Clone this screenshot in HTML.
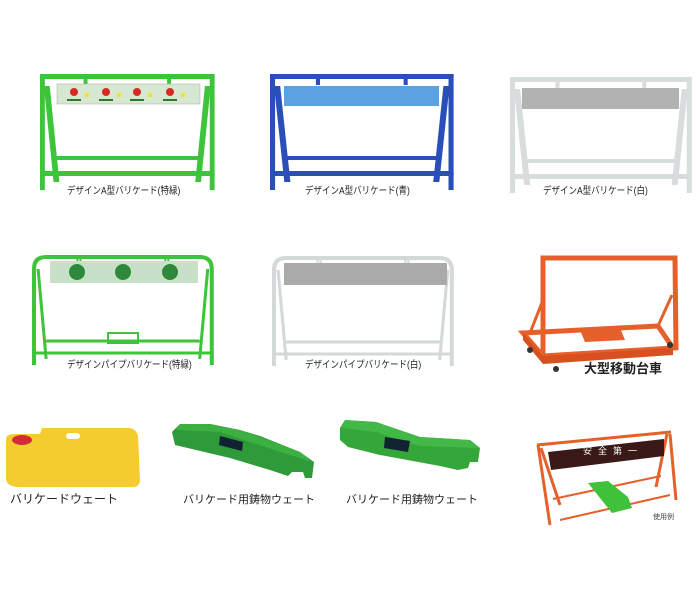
<!DOCTYPE html>
<html><head><meta charset="utf-8"><style>
body{margin:0;background:#fff;width:700px;height:608px;overflow:hidden;position:relative;font-family:"Liberation Sans","Noto Sans CJK JP",sans-serif}
.l{position:absolute;font-size:10px;color:#222;white-space:nowrap;transform:scaleX(.85);transform-origin:left}
svg{position:absolute;left:0;top:0}
</style></head><body>
<svg width="700" height="608" viewBox="0 0 700 608">
<defs>
<g id="af">
<rect x="0" y="0" width="180" height="5"/>
<rect x="0" y="0" width="5" height="116"/>
<rect x="175" y="0" width="5" height="116"/>
<path d="M4 12 L10 12 L20 108 L14 108Z M176 12 L170 12 L160 108 L166 108Z"/>
<rect x="14" y="82" width="152" height="4"/>
<rect x="0" y="97" width="180" height="5"/>
<rect x="45" y="3" width="4" height="8"/><rect x="131" y="3" width="4" height="8"/>
</g>
<g id="pf" fill="none" stroke-width="4">
<path d="M2 110 L2 14 Q2 2 14 2 L166 2 Q178 2 178 14 L178 110"/>
<path d="M6 14 L14 104 M174 14 L166 104" stroke-width="3"/>
<path d="M14 86 L166 86 M2 98 L178 98" stroke-width="3"/>
<rect x="45" y="2" width="3" height="8" stroke-width="2"/><rect x="132" y="2" width="3" height="8" stroke-width="2"/>
</g>
</defs>
<g fill="#3ec43a" transform="translate(40,74) scale(0.97,1)"><use href="#af"/></g>
<rect x="57" y="84" width="143" height="20" fill="#d6e8d2" stroke="#aaa" stroke-width=".5"/>
<g fill="#d42a20"><circle cx="74" cy="92" r="4"/><circle cx="106" cy="92" r="4"/><circle cx="137" cy="92" r="4"/><circle cx="170" cy="92" r="4"/></g>
<g fill="#f0e040"><circle cx="87" cy="95" r="2.5"/><circle cx="119" cy="95" r="2.5"/><circle cx="150" cy="95" r="2.5"/><circle cx="183" cy="95" r="2.5"/></g>
<g fill="#2a7a2a"><rect x="67" y="99" width="14" height="2"/><rect x="99" y="99" width="14" height="2"/><rect x="130" y="99" width="14" height="2"/><rect x="163" y="99" width="14" height="2"/></g>
<g fill="#2a4fb8" transform="translate(270,74) scale(1.02,1)"><use href="#af"/></g>
<rect x="284" y="86" width="155" height="20" fill="#5aa2e0"/>
<g fill="#d8dcdc" transform="translate(510,77) scale(1.01,1)"><use href="#af"/></g>
<rect x="522" y="88" width="157" height="21" fill="#b2b2b2"/>
<g stroke="#3ec43a" transform="translate(32,255) scale(1.01,1)"><use href="#pf"/></g>
<rect x="50" y="261" width="148" height="22" fill="#c8e0c8"/>
<g fill="#2e8a3a"><circle cx="77" cy="272" r="8"/><circle cx="123" cy="272" r="8"/><circle cx="170" cy="272" r="8"/></g>
<rect x="108" y="333" width="30" height="10" fill="none" stroke="#3ec43a" stroke-width="2"/>
<g stroke="#d4d8d8" transform="translate(272,256) scale(1.01,1)"><use href="#pf"/></g>
<rect x="284" y="263" width="163" height="22" fill="#aaa"/>
<g stroke="#e5602a" fill="none" stroke-width="5">
<path d="M543 356 L543 258 L675 258 L676 350"/>
<path d="M523 333 L543 356 L673 348 L658 326 Z"/>
<path d="M543 300 L530 333 M672 295 L658 326" stroke-width="3"/>
</g>
<path d="M523 333 L543 356 L543 364 L523 340Z M543 356 L673 348 L673 355 L543 364Z" fill="#d85020"/>
<path d="M580 330 L620 328 L625 340 L585 342Z" fill="#e5602a"/>
<g fill="#333"><circle cx="530" cy="350" r="3"/><circle cx="556" cy="369" r="3"/><circle cx="670" cy="345" r="3"/></g>
<path d="M6 440 Q6 434 14 434 L40 434 L42 428 L128 428 Q136 428 138 436 L140 480 Q140 487 132 487 L20 487 Q6 487 6 478Z" fill="#f5cc30"/>
<ellipse cx="22" cy="440" rx="10" ry="5" fill="#d42a3a"/>
<rect x="66" y="433" width="14" height="6" rx="3" fill="#fff"/>
<path d="M172 432 L180 424 L210 424 L240 430 L260 436 L300 452 L314 462 L312 478 L305 478 L303 472 L292 472 L288 476 L270 470 L230 458 L175 445Z" fill="#2e9a3a"/>
<path d="M180 424 L210 424 L240 430 L300 452 L312 462 L262 446 L220 432 L176 430Z" fill="#3cb040"/>
<path d="M220 436 L243 442 L242 451 L219 445Z" fill="#123"/>
<path d="M340 428 L345 420 L376 422 L420 437 L470 440 L480 448 L478 462 L470 462 L468 468 L458 470 L440 466 L380 455 L348 447 L340 440Z" fill="#35a63a"/>
<path d="M345 420 L376 422 L420 437 L470 440 L480 448 L420 446 L376 432 L342 428Z" fill="#42b846"/>
<path d="M385 437 L410 441 L408 452 L384 448Z" fill="#123"/>
<g stroke="#e5602a" fill="none" stroke-width="3">
<path d="M537 445 L671 432 M538 445 L550 525 M541 448 L560 505 M667 434 L656 487 M670 434 L676 500"/>
<path d="M553 499 L661 476 M560 520 L670 495" stroke-width="2"/>
</g>
<path d="M548 452 L664 439 L664 456 L551 470Z" fill="#3a1a18"/>
<path d="M588 483 L608 481 L628 497 L632 508 L612 513 Z" fill="#3fc23a"/>
</svg>
<div class="l" style="left:67px;top:182px">デザインA型バリケード(特緑)</div>
<div class="l" style="left:305px;top:182px">デザインA型バリケード(青)</div>
<div class="l" style="left:543px;top:182px">デザインA型バリケード(白)</div>
<div class="l" style="left:67px;top:356px">デザインパイプバリケード(特緑)</div>
<div class="l" style="left:305px;top:356px">デザインパイプバリケード(白)</div>
<div class="l" style="left:584px;top:358px;font-size:13px;font-weight:bold;transform:none">大型移動台車</div>
<div class="l" style="left:10px;top:490px;font-size:12px;transform:none">バリケードウェート</div>
<div class="l" style="left:183px;top:491px;font-size:11px;transform:none">バリケード用鋳物ウェート</div>
<div class="l" style="left:346px;top:491px;font-size:11px;transform:none">バリケード用鋳物ウェート</div>
<div class="l" style="left:653px;top:512px;font-size:7px;transform:none;color:#444">使用例</div>
<div class="l" style="left:583px;top:444px;font-size:9px;transform:none;color:#fff;letter-spacing:6px">安全第一</div>
</body></html>
